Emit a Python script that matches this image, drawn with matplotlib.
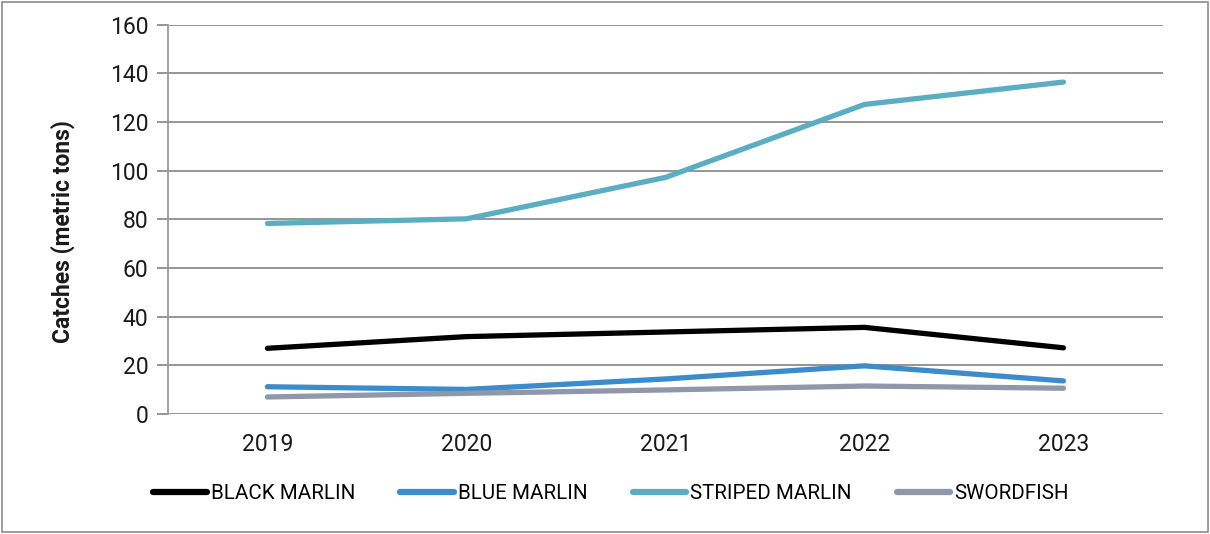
import matplotlib
matplotlib.use("Agg")
import matplotlib.pyplot as plt
from matplotlib.patches import Rectangle

years = ["2019", "2020", "2021", "2022", "2023"]
black_marlin = [27.0, 31.8, 33.7, 35.6, 27.2]
blue_marlin = [11.2, 10.1, 14.4, 19.8, 13.6]
striped_marlin = [78.3, 80.2, 97.2, 127.2, 136.4]
swordfish = [7.0, 8.5, 9.9, 11.5, 10.6]

series = [
    ("BLACK MARLIN", black_marlin, "#000000"),
    ("BLUE MARLIN", blue_marlin, "#3C8BCB"),
    ("STRIPED MARLIN", striped_marlin, "#5BAEC2"),
    ("SWORDFISH", swordfish, "#8F97A8"),
]

plt.rcParams["font.family"] = ["Roboto", "DejaVu Sans"]

fig = plt.figure(figsize=(12.10, 5.34), dpi=100)
ax = fig.add_axes([0.1388, 0.2247, 0.8223, 0.7292])

x = list(range(len(years)))
for name, vals, color in series:
    ax.plot(x, vals, color=color, lw=3.8, solid_capstyle="round",
            solid_joinstyle="round", label=name, zorder=3)

ax.set_xlim(-0.5, len(years) - 0.5)
ax.set_ylim(0, 160)
ax.set_yticks(range(0, 161, 20))
ax.set_xticks(x)
ax.set_xticklabels(years)

ax.grid(axis="y", color="#8C8C8C", lw=1.3, zorder=0)
for side in ["top", "right", "bottom"]:
    ax.spines[side].set_visible(False)
ax.spines["left"].set_color("#9A9A9A")
ax.spines["left"].set_linewidth(1.3)
ax.tick_params(axis="y", length=8, width=1.3, color="#8C8C8C",
               labelsize=16.5, pad=6, labelcolor="#1a1a1a")
ax.tick_params(axis="x", length=0, labelsize=16.5, pad=14, labelcolor="#1a1a1a")

# Axis title placed directly in figure coordinates
fig.text(63 / 1210, 1 - 231.5 / 534, "Catches (metric tons)", rotation=90,
         ha="center", va="center", fontsize=16.5, fontweight="bold",
         color="#1a1a1a")

leg = fig.legend(loc="center", bbox_to_anchor=(0.505, 0.075), ncol=4,
                 frameon=False, fontsize=14.8, handlelength=2.6,
                 handletextpad=0.2, columnspacing=2.2)
for line in leg.get_lines():
    line.set_linewidth(4.5)

fig.patches.append(Rectangle((0.002, 0.004), 0.996, 0.992,
                             transform=fig.transFigure, fill=False,
                             edgecolor="#8C8C8C", lw=1.2))

fig.savefig("out.png", dpi=100)
